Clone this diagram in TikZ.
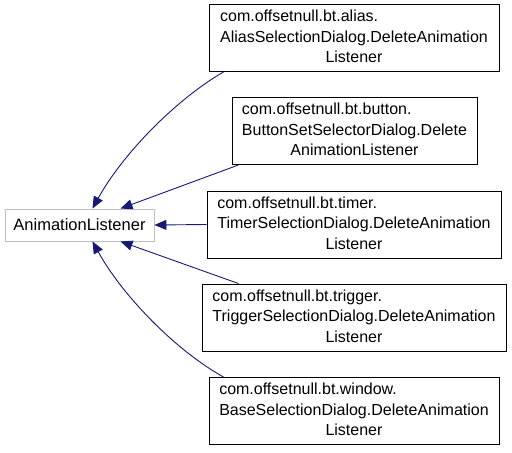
\documentclass[tikz,border=0pt]{standalone}
\usepackage{fontspec}
\setmainfont{Liberation Sans}
\usetikzlibrary{arrows.meta}
\definecolor{edgeblue}{HTML}{191970}
\definecolor{basegray}{HTML}{BFBFBF}
\newcommand{\cname}[3]{\begin{tabular}{@{}l@{}}#1\\#2\\\multicolumn{1}{@{}c@{}}{#3}\end{tabular}}
\begin{document}
\begin{tikzpicture}[x=1pt,y=-1pt,
  cls/.style={draw=black, line width=0.9pt, rectangle, inner sep=0pt, minimum height=67pt,
    font=\fontsize{16}{20.5}\selectfont},
  base/.style={draw=basegray, line width=0.9pt, rectangle, inner sep=0pt, minimum width=149pt,
    minimum height=32pt, font=\fontsize{16.5}{18}\selectfont},
  inh/.style={draw=edgeblue, line width=0.9pt, -{Triangle[length=12pt,width=10pt,fill=edgeblue]}}]
\useasboundingbox (0,0) rectangle (512,453);
\fill[white] (0,0) rectangle (512,453);
\node[base] (al) at (79.5,225) {AnimationListener};
\node[cls, minimum width=290pt] (a) at (354,38)
  {\cname{com.offsetnull.bt.alias.}{AliasSelectionDialog.DeleteAnimation}{Listener}};
\node[cls, minimum width=245pt] (b) at (354.5,131)
  {\cname{com.offsetnull.bt.button.}{ButtonSetSelectorDialog.Delete}{AnimationListener}};
\node[cls, minimum width=294pt] (c) at (354,224.5)
  {\cname{com.offsetnull.bt.timer.}{TimerSelectionDialog.DeleteAnimation}{Listener}};
\node[cls, minimum width=304pt] (d) at (354,317.5)
  {\cname{com.offsetnull.bt.trigger.}{TriggerSelectionDialog.DeleteAnimation}{Listener}};
\node[cls, minimum width=290pt] (e) at (354,411)
  {\cname{com.offsetnull.bt.window.}{BaseSelectionDialog.DeleteAnimation}{Listener}};
\draw[inh] ([xshift=15pt]a.south west) .. controls (175,100) and (122,155) .. ([xshift=13pt]al.north);
\draw[inh] ([xshift=7pt]b.south west) -- ([xshift=41pt]al.north);
\draw[inh] (c.west) -- (al.east);
\draw[inh] ([xshift=37pt]d.north west) -- ([xshift=41pt]al.south);
\draw[inh] ([xshift=15pt]e.north west) .. controls (175,350) and (122,295) .. ([xshift=13pt]al.south);
\end{tikzpicture}
\end{document}
